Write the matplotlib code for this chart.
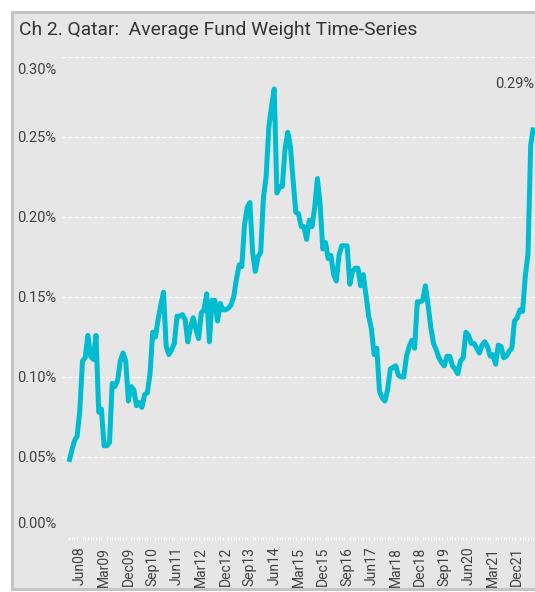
import matplotlib
matplotlib.use("Agg")
import matplotlib.pyplot as plt
import matplotlib.transforms as mtransforms
from matplotlib.patches import Rectangle
import numpy as np

# Monthly average fund weight (%), starting Feb 2008 (visible part of the chart)
weights = [
    0.047, 0.054, 0.060, 0.063, 0.079, 0.110, 0.112, 0.126, 0.113, 0.111,
    0.126, 0.078, 0.080, 0.057, 0.057, 0.059, 0.096, 0.094, 0.098, 0.110,
    0.115, 0.110, 0.085, 0.094, 0.092, 0.082, 0.084, 0.081, 0.089, 0.090,
    0.102, 0.128, 0.125, 0.136, 0.145, 0.153, 0.119, 0.114, 0.117, 0.121,
    0.138, 0.138, 0.139, 0.136, 0.122, 0.131, 0.137, 0.130, 0.124, 0.140,
    0.142, 0.152, 0.122, 0.148, 0.148, 0.135, 0.146, 0.142, 0.142, 0.143,
    0.145, 0.150, 0.161, 0.170, 0.169, 0.195, 0.206, 0.209, 0.178, 0.166,
    0.175, 0.178, 0.212, 0.225, 0.256, 0.269, 0.280, 0.215, 0.219, 0.219,
    0.242, 0.253, 0.244, 0.223, 0.203, 0.202, 0.194, 0.194, 0.186, 0.198,
    0.194, 0.206, 0.224, 0.208, 0.180, 0.184, 0.174, 0.176, 0.164, 0.160,
    0.176, 0.182, 0.182, 0.182, 0.158, 0.166, 0.168, 0.168, 0.157, 0.164,
    0.151, 0.138, 0.130, 0.114, 0.118, 0.091, 0.087, 0.085, 0.092, 0.105,
    0.106, 0.107, 0.101, 0.100, 0.100, 0.113, 0.119, 0.123, 0.118, 0.147,
    0.147, 0.148, 0.157, 0.145, 0.131, 0.121, 0.117, 0.112, 0.109, 0.107,
    0.113, 0.113, 0.107, 0.105, 0.102, 0.110, 0.112, 0.128, 0.126, 0.121,
    0.121, 0.118, 0.115, 0.120, 0.122, 0.119, 0.113, 0.114, 0.108, 0.120,
    0.119, 0.112, 0.113, 0.116, 0.118, 0.135, 0.137, 0.142, 0.141, 0.163,
    0.177, 0.245, 0.256,
]
latest_value = 0.29   # latest reading, labelled at the (cropped) right edge

tick_labels = ["Jun08", "Mar09", "Dec09", "Sep10", "Jun11", "Mar12", "Dec12",
               "Sep13", "Jun14", "Mar15", "Dec15", "Sep16", "Jun17", "Mar18",
               "Dec18", "Sep19", "Jun20", "Mar21", "Dec21"]
first_tick_index = 4   # Jun08 is the 5th month of the series (Feb08 start)
tick_step = 9          # one label every 9 months

y_ticks = [0.00, 0.05, 0.10, 0.15, 0.20, 0.25, 0.30]
title = "Ch 2. Qatar:  Average Fund Weight Time-Series"

FONT = ["Roboto", "DejaVu Sans"]
plt.rcParams["font.family"] = FONT

W, H = 535, 592
fig = plt.figure(figsize=(W / 100, H / 100), dpi=100)
fig.patch.set_facecolor("white")

# panel frame (drawn on a background axes so it stays behind the plot)
bg = fig.add_axes([0, 0, 1, 1], zorder=-5)
bg.set_xlim(0, W)
bg.set_ylim(H, 0)
bg.axis("off")
bg.add_patch(Rectangle((12, 12), W + 10, H - 15, facecolor="#e6e6e6",
                       edgecolor="#c4c4c4", linewidth=2.2))

fig.text(19 / W, 1 - 30 / H, title, fontsize=13.9, color="#333333",
         ha="left", va="center")

ax_left, ax_right = 62, 535
ax_top, ax_bot = 57, 537
ax = fig.add_axes([ax_left / W, 1 - ax_bot / H, (ax_right - ax_left) / W,
                   (ax_bot - ax_top) / H])
ax.patch.set_alpha(0)

x = np.arange(len(weights))
ax.plot(x, weights, color="#00bcd0", linewidth=3.6, solid_joinstyle="round",
        solid_capstyle="butt", zorder=3)

px_per_month = 2.7
x0_px = 69
ax.set_xlim((ax_left - x0_px) / px_per_month, (ax_right - x0_px) / px_per_month)
ax.set_ylim(0, 0.30)

ticks = [first_tick_index + i * tick_step for i in range(len(tick_labels))]
ax.set_xticks(ticks)
ax.set_xticklabels(tick_labels, rotation=90, fontsize=10, color="#404040")
ax.set_xticks(x, minor=True)
ax.tick_params(axis="x", which="major", length=0, pad=7)
ax.tick_params(axis="x", which="minor", length=2, color="white", width=0.8)

ax.set_yticks(y_ticks)
ax.set_yticklabels([f"{v:.2f}%" for v in y_ticks], fontsize=10.5, color="#404040")
ax.tick_params(axis="y", length=0, pad=4)

ylabels = ax.get_yticklabels()
ylabels[0].set_transform(ylabels[0].get_transform() +
                         mtransforms.ScaledTranslation(0, 14 / 100, fig.dpi_scale_trans))
ylabels[-1].set_transform(ylabels[-1].get_transform() +
                          mtransforms.ScaledTranslation(0, -11 / 100, fig.dpi_scale_trans))

ax.grid(axis="y", color="white", linestyle=(0, (3, 2)), linewidth=0.9)
ax.set_axisbelow(True)
for s in ax.spines.values():
    s.set_visible(False)

ax.annotate(f"{latest_value:.2f}%", xy=(len(weights), latest_value), xytext=(-1.5, -3),
            textcoords="offset points", ha="right", va="top",
            fontsize=10.5, color="#404040", annotation_clip=False)

fig.savefig("out.png", dpi=100, facecolor=fig.get_facecolor())
